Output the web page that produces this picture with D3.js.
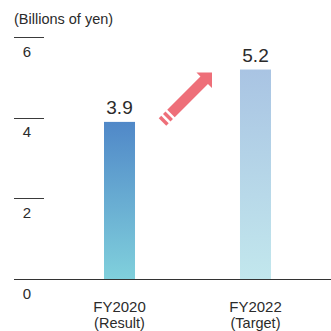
<!DOCTYPE html>
<html>
<head>
<meta charset="utf-8">
<script src="https://cdn.jsdelivr.net/npm/d3@7"></script>
<style>
  html, body { margin: 0; padding: 0; background: #fff; }
  svg { display: block; }
  text { font-family: "Liberation Sans", Arial, Helvetica, sans-serif; fill: #2b2b2b; }
</style>
</head>
<body>
<svg id="chart" width="331" height="331"></svg>
<script>
// Data
const categories = ["FY2020", "FY2022"];
const subLabels = ["(Result)", "(Target)"];
const values = [3.9, 5.2];
const valueLabels = ["3.9", "5.2"];
const tickValues = [0, 2, 4, 6];
const unitLabel = "(Billions of yen)";

// Gradient colours per bar (top, bottom)
const barColors = [["#5088c8", "#80d0dc"], ["#a9c4e3", "#c2e7ed"]];
const arrowColor = "#ee6f79";

const svg = d3.select("#chart");
const W = 331, H = 331;

const y = d3.scaleLinear().domain([0, 6]).range([279, 37.3]);
const x = d3.scaleBand()
  .domain(categories)
  .range([104, 271])
  .paddingInner(0.772)
  .paddingOuter(0);

// Gradients
const defs = svg.append("defs");
categories.forEach((c, i) => {
  const g = defs.append("linearGradient")
    .attr("id", "grad" + i)
    .attr("x1", 0).attr("y1", 0).attr("x2", 0).attr("y2", 1);
  g.append("stop").attr("offset", "0%").attr("stop-color", barColors[i][0]);
  g.append("stop").attr("offset", "100%").attr("stop-color", barColors[i][1]);
});

// Unit label
svg.append("text")
  .attr("x", 14).attr("y", 24)
  .attr("font-size", 14.5)
  .text(unitLabel);

// Tick marks: short rules with the value written beneath
const ticks = svg.append("g");
tickValues.filter(v => v > 0).forEach(v => {
  ticks.append("line")
    .attr("x1", 14).attr("x2", 44)
    .attr("y1", Math.round(y(v)) + 0.5).attr("y2", Math.round(y(v)) + 0.5)
    .attr("stroke", "#3a3a3a").attr("stroke-width", 1);
});
tickValues.forEach(v => {
  ticks.append("text")
    .attr("x", 27).attr("y", y(v) + 19.5)
    .attr("text-anchor", "middle")
    .attr("font-size", 15)
    .text(v);
});

// Bars
svg.append("g").selectAll("rect")
  .data(values)
  .join("rect")
  .attr("x", (d, i) => x(categories[i]))
  .attr("width", x.bandwidth())
  .attr("y", d => y(d))
  .attr("height", d => y(0) - y(d))
  .attr("fill", (d, i) => `url(#grad${i})`);

// Value labels
svg.append("g").selectAll("text")
  .data(values)
  .join("text")
  .attr("x", (d, i) => x(categories[i]) + x.bandwidth() / 2)
  .attr("y", d => y(d) - 7.5)
  .attr("text-anchor", "middle")
  .attr("font-size", 19)
  .text((d, i) => valueLabels[i]);

// Baseline
svg.append("line")
  .attr("x1", 14).attr("x2", W)
  .attr("y1", Math.round(y(0)) + 0.5).attr("y2", Math.round(y(0)) + 0.5)
  .attr("stroke", "#333").attr("stroke-width", 1);

// Category labels
const cat = svg.append("g");
categories.forEach((c, i) => {
  const cx = x(c) + x.bandwidth() / 2;
  cat.append("text")
    .attr("x", cx).attr("y", 311.5)
    .attr("text-anchor", "middle")
    .attr("font-size", 15)
    .text(c);
  cat.append("text")
    .attr("x", cx).attr("y", 327.5)
    .attr("text-anchor", "middle")
    .attr("font-size", 14.5)
    .text(subLabels[i]);
});

// Growth arrow between the two bars, tip near the target bar's top
const tipX = x(categories[1]) - 28;
const tipY = y(values[1]) + 3;
const arrow = svg.append("g")
  .attr("transform", `translate(${tipX},${tipY}) rotate(-45)`)
  .attr("fill", arrowColor);
const hw = 5.3;
arrow.append("path")
  .attr("d", `M0,0 L-11,-11 L-11,${-hw} L-58,${-hw} L-58,${hw} L-11,${hw} L-11,11 Z`);
arrow.append("rect").attr("x", -64).attr("y", -hw).attr("width", 3.5).attr("height", hw * 2);
arrow.append("rect").attr("x", -70).attr("y", -hw).attr("width", 3.5).attr("height", hw * 2);
</script>
</body>
</html>
